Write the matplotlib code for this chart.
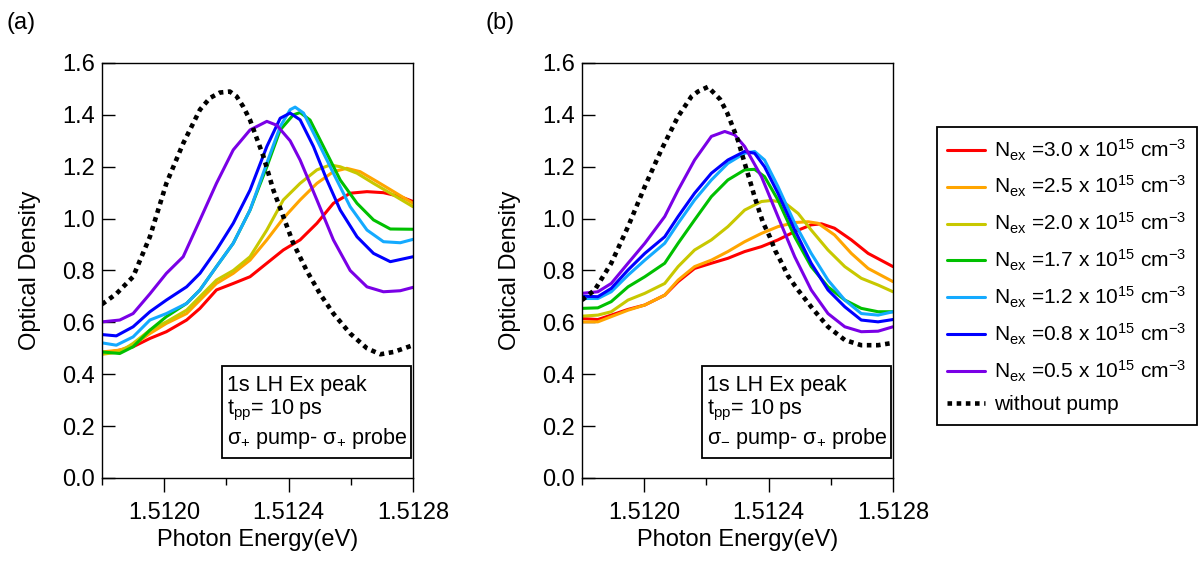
import matplotlib
matplotlib.use("Agg")
import matplotlib.pyplot as plt
from matplotlib.patches import Rectangle
from matplotlib.ticker import MultipleLocator, FormatStrFormatter

plt.rcParams['font.family'] = ['Liberation Sans', 'DejaVu Sans']
plt.rcParams['mathtext.fontset'] = 'custom'
plt.rcParams['mathtext.rm'] = 'Liberation Sans'
plt.rcParams['mathtext.it'] = 'Liberation Sans:italic'
plt.rcParams['mathtext.bf'] = 'Liberation Sans:bold'

# ---- data: (photon energy eV, optical density) ----
# panel (a): sigma+ pump / sigma+ probe
a_red = [(1.51180, 0.480), (1.511857, 0.493), (1.511900, 0.506), (1.511954, 0.538), (1.512007, 0.564),
         (1.512072, 0.609), (1.512115, 0.654), (1.512168, 0.725), (1.512222, 0.750), (1.512276, 0.776),
         (1.512330, 0.828), (1.512383, 0.879), (1.512437, 0.918), (1.512491, 0.982), (1.512544, 1.059),
         (1.512598, 1.098), (1.512652, 1.104), (1.512705, 1.100), (1.512759, 1.085), (1.512800, 1.066)]
a_orange = [(1.51180, 0.486), (1.511857, 0.493), (1.511900, 0.512), (1.511954, 0.557), (1.512007, 0.596),
            (1.512072, 0.634), (1.512115, 0.686), (1.512168, 0.750), (1.512222, 0.789), (1.512276, 0.840),
            (1.512330, 0.918), (1.512383, 1.001), (1.512437, 1.072), (1.512491, 1.136), (1.512544, 1.181),
            (1.512587, 1.194), (1.512630, 1.181), (1.512684, 1.143), (1.512738, 1.104), (1.512800, 1.059)]
a_yellow = [(1.51180, 0.477), (1.511857, 0.486), (1.511900, 0.519), (1.511954, 0.570), (1.512007, 0.602),
            (1.512072, 0.647), (1.512115, 0.699), (1.512168, 0.763), (1.512222, 0.800), (1.512276, 0.853),
            (1.512330, 0.956), (1.512383, 1.072), (1.512437, 1.136), (1.512491, 1.188), (1.512534, 1.207),
            (1.512566, 1.200), (1.512620, 1.175), (1.512673, 1.136), (1.512727, 1.098), (1.512800, 1.046)]
a_green = [(1.51180, 0.486), (1.511857, 0.480), (1.511900, 0.506), (1.511954, 0.570), (1.512007, 0.622),
           (1.512072, 0.673), (1.512115, 0.725), (1.512168, 0.815), (1.512222, 0.905), (1.512276, 1.033),
           (1.512330, 1.200), (1.512373, 1.342), (1.512415, 1.400), (1.512437, 1.409), (1.512469, 1.380),
           (1.512512, 1.278), (1.512566, 1.149), (1.512620, 1.059), (1.512673, 0.995), (1.512727, 0.960),
           (1.512800, 0.959)]
a_cyan = [(1.51180, 0.521), (1.511846, 0.512), (1.511900, 0.544), (1.511954, 0.609), (1.512007, 0.634),
          (1.512072, 0.673), (1.512115, 0.725), (1.512168, 0.815), (1.512222, 0.905), (1.512276, 1.033),
          (1.512330, 1.214), (1.512373, 1.355), (1.512405, 1.420), (1.512421, 1.430), (1.512448, 1.407),
          (1.512491, 1.304), (1.512544, 1.175), (1.512598, 1.046), (1.512652, 0.956), (1.512705, 0.911),
          (1.512759, 0.907), (1.512800, 0.920)]
a_blue = [(1.51180, 0.553), (1.511846, 0.548), (1.511900, 0.583), (1.511954, 0.641), (1.512007, 0.686),
          (1.512072, 0.737), (1.512115, 0.789), (1.512168, 0.879), (1.512222, 0.982), (1.512276, 1.110),
          (1.512330, 1.278), (1.512373, 1.387), (1.512405, 1.407), (1.512437, 1.381), (1.512480, 1.278),
          (1.512523, 1.149), (1.512566, 1.033), (1.512620, 0.930), (1.512673, 0.866), (1.512727, 0.834),
          (1.512800, 0.853)]
a_purple = [(1.51180, 0.602), (1.511857, 0.609), (1.511900, 0.634), (1.511954, 0.710), (1.512007, 0.789),
            (1.512061, 0.853), (1.512115, 0.995), (1.512168, 1.136), (1.512222, 1.265), (1.512276, 1.342),
            (1.512330, 1.375), (1.512362, 1.360), (1.512405, 1.300), (1.512437, 1.226), (1.512491, 1.072),
            (1.512544, 0.918), (1.512598, 0.800), (1.512652, 0.737), (1.512705, 0.718), (1.512759, 0.722),
            (1.512800, 0.735)]
a_nopump = [(1.51180, 0.670), (1.511846, 0.710), (1.511900, 0.776), (1.511954, 0.930), (1.512007, 1.136),
            (1.512061, 1.290), (1.512115, 1.420), (1.512147, 1.465), (1.512179, 1.486), (1.512211, 1.490),
            (1.512233, 1.471), (1.512254, 1.432), (1.512276, 1.380), (1.512319, 1.240), (1.512351, 1.110),
            (1.512383, 1.008), (1.512415, 0.905), (1.512458, 0.800), (1.512501, 0.710), (1.512544, 0.634),
            (1.512598, 0.557), (1.512652, 0.500), (1.512695, 0.477), (1.512738, 0.486), (1.512800, 0.512)]

# panel (b): sigma- pump / sigma+ probe
b_red = [(1.51180, 0.615), (1.511851, 0.611), (1.511894, 0.628), (1.511948, 0.650), (1.512002, 0.667),
         (1.512066, 0.705), (1.512109, 0.757), (1.512162, 0.808), (1.512216, 0.828), (1.512269, 0.847),
         (1.512323, 0.873), (1.512377, 0.892), (1.512430, 0.918), (1.512484, 0.950), (1.512537, 0.976),
         (1.512570, 0.980), (1.512612, 0.963), (1.512666, 0.918), (1.512720, 0.866), (1.512800, 0.815)]
b_orange = [(1.51180, 0.602), (1.511851, 0.602), (1.511894, 0.622), (1.511948, 0.647), (1.512002, 0.667),
            (1.512066, 0.705), (1.512109, 0.763), (1.512162, 0.815), (1.512216, 0.840), (1.512269, 0.873),
            (1.512323, 0.911), (1.512377, 0.943), (1.512430, 0.969), (1.512484, 0.985), (1.512527, 0.988),
            (1.512559, 0.982), (1.512612, 0.937), (1.512666, 0.866), (1.512720, 0.808), (1.512800, 0.757)]
b_yellow = [(1.51180, 0.624), (1.511851, 0.628), (1.511894, 0.641), (1.511948, 0.686), (1.512002, 0.712),
            (1.512066, 0.750), (1.512109, 0.815), (1.512162, 0.879), (1.512216, 0.918), (1.512269, 0.969),
            (1.512323, 1.033), (1.512377, 1.066), (1.512409, 1.070), (1.512451, 1.062), (1.512495, 1.020),
            (1.512537, 0.956), (1.512591, 0.879), (1.512645, 0.815), (1.512698, 0.770), (1.512752, 0.744),
            (1.512800, 0.718)]
b_green = [(1.51180, 0.654), (1.511851, 0.656), (1.511894, 0.680), (1.511948, 0.737), (1.512002, 0.776),
           (1.512066, 0.828), (1.512109, 0.905), (1.512162, 0.995), (1.512216, 1.085), (1.512269, 1.149),
           (1.512323, 1.188), (1.512355, 1.190), (1.512387, 1.162), (1.512430, 1.072), (1.512484, 0.930),
           (1.512537, 0.815), (1.512591, 0.737), (1.512645, 0.686), (1.512698, 0.654), (1.512752, 0.641),
           (1.512800, 0.641)]
b_cyan = [(1.51180, 0.692), (1.511851, 0.692), (1.511894, 0.718), (1.511948, 0.782), (1.512002, 0.840),
          (1.512066, 0.905), (1.512109, 0.982), (1.512162, 1.072), (1.512216, 1.149), (1.512269, 1.213),
          (1.512323, 1.252), (1.512355, 1.259), (1.512387, 1.226), (1.512430, 1.124), (1.512484, 0.982),
          (1.512537, 0.866), (1.512591, 0.763), (1.512645, 0.686), (1.512698, 0.634), (1.512752, 0.628),
          (1.512800, 0.641)]
b_blue = [(1.51180, 0.701), (1.511851, 0.699), (1.511894, 0.731), (1.511948, 0.802), (1.512002, 0.866),
          (1.512066, 0.930), (1.512109, 1.008), (1.512162, 1.098), (1.512216, 1.175), (1.512269, 1.226),
          (1.512323, 1.259), (1.512355, 1.252), (1.512387, 1.200), (1.512430, 1.098), (1.512484, 0.956),
          (1.512537, 0.828), (1.512591, 0.725), (1.512645, 0.660), (1.512698, 0.609), (1.512752, 0.602),
          (1.512800, 0.611)]
b_purple = [(1.51180, 0.712), (1.511851, 0.718), (1.511894, 0.750), (1.511948, 0.828), (1.512002, 0.905),
            (1.512066, 1.008), (1.512109, 1.110), (1.512162, 1.226), (1.512216, 1.317), (1.512259, 1.336),
            (1.512291, 1.323), (1.512323, 1.278), (1.512377, 1.162), (1.512430, 1.008), (1.512484, 0.853),
            (1.512537, 0.725), (1.512591, 0.634), (1.512645, 0.583), (1.512698, 0.564), (1.512752, 0.566),
            (1.512800, 0.583)]
b_nopump = [(1.51180, 0.686), (1.511841, 0.725), (1.511894, 0.828), (1.511948, 0.969), (1.512002, 1.124),
            (1.512055, 1.265), (1.512109, 1.394), (1.512152, 1.471), (1.512173, 1.490), (1.512205, 1.508),
            (1.512244, 1.460), (1.512266, 1.410), (1.512286, 1.350), (1.512302, 1.300), (1.512324, 1.210),
            (1.512340, 1.146), (1.512356, 1.080), (1.512382, 0.985), (1.512405, 0.927), (1.512421, 0.877),
            (1.512443, 0.827), (1.512462, 0.780), (1.512491, 0.730), (1.512511, 0.700), (1.512540, 0.655),
            (1.512591, 0.583), (1.512645, 0.532), (1.512698, 0.512), (1.512752, 0.512), (1.512800, 0.521)]

densities = ["3.0", "2.5", "2.0", "1.7", "1.2", "0.8", "0.5"]
colors = ["#ff0000", "#ffa500", "#c8c800", "#00c000", "#14aaff", "#0000ff", "#7a00e6"]

panel_a = [a_red, a_orange, a_yellow, a_green, a_cyan, a_blue, a_purple]
panel_b = [b_red, b_orange, b_yellow, b_green, b_cyan, b_blue, b_purple]

FS = 17

fig = plt.figure(figsize=(12.02, 5.65), dpi=100)
ax_a = fig.add_axes([102 / 1202, 87 / 565, 311 / 1202, 415 / 565])
ax_b = fig.add_axes([582 / 1202, 87 / 565, 311 / 1202, 415 / 565])


def draw_panel(ax, series, nopump, pump_label):
    handles = []
    for pts, c, d in zip(series, colors, densities):
        xs = [p[0] for p in pts]
        ys = [p[1] for p in pts]
        h, = ax.plot(xs, ys, color=c, lw=2.2, solid_joinstyle='round', solid_capstyle='round',
                     label=r"N$_\mathregular{ex}$ =" + d + r" x 10$^\mathregular{15}$ cm$^\mathregular{-3}$")
        handles.append(h)
    xs = [p[0] for p in nopump]
    ys = [p[1] for p in nopump]
    h, = ax.plot(xs, ys, color='black', lw=3.3, linestyle=(0, (1.0, 1.0)), dash_capstyle='butt',
                 label="without pump")
    handles.append(h)

    ax.set_xlim(1.5118, 1.5128)
    ax.set_ylim(0, 1.6)
    ax.xaxis.set_major_locator(MultipleLocator(0.0004))
    ax.xaxis.set_major_formatter(FormatStrFormatter('%.4f'))
    ax.xaxis.set_minor_locator(MultipleLocator(0.0002))
    ax.yaxis.set_major_locator(MultipleLocator(0.2))
    ax.yaxis.set_major_formatter(FormatStrFormatter('%.1f'))
    ax.tick_params(axis='y', direction='in', length=9.5, width=1, labelsize=FS, pad=5)
    ax.tick_params(axis='x', which='major', direction='out', length=10, width=1, labelsize=FS, pad=7)
    ax.tick_params(axis='x', which='minor', direction='out', length=5, width=1)
    for s in ax.spines.values():
        s.set_linewidth(1)
    ax.set_xlabel("Photon Energy(eV)", fontsize=FS, labelpad=4)
    ax.set_ylabel("Optical Density", fontsize=FS, labelpad=15)

    # annotation box
    ax.add_patch(Rectangle((0.385, 0.048), 0.609, 0.222, transform=ax.transAxes,
                           fill=False, edgecolor='black', lw=1.3, zorder=5))
    ax.text(0.402, 0.222, "1s LH Ex peak", transform=ax.transAxes, fontsize=15.5, va='center', zorder=6)
    ax.text(0.402, 0.163, r"t$_\mathregular{pp}$= 10 ps", transform=ax.transAxes, fontsize=15.5,
            va='center', zorder=6)
    ax.text(0.402, 0.095, pump_label, transform=ax.transAxes, fontsize=15.5, va='center', zorder=6)
    return handles


handles = draw_panel(ax_a, panel_a, a_nopump, r"σ$_\mathregular{+}$ pump- σ$_\mathregular{+}$ probe")
draw_panel(ax_b, panel_b, b_nopump, r"σ$_\mathregular{-}$ pump- σ$_\mathregular{+}$ probe")

fig.text(7 / 1202, 1 - 23 / 565, "(a)", fontsize=FS, va='center', ha='left')
fig.text(486 / 1202, 1 - 23 / 565, "(b)", fontsize=FS, va='center', ha='left')

leg = fig.legend(handles=handles, loc='upper left', bbox_to_anchor=(937 / 1202, 1 - 127 / 565),
                 fontsize=15, frameon=True, fancybox=False, edgecolor='black', framealpha=1,
                 borderaxespad=0, handlelength=1.8, handletextpad=0.45, labelspacing=0.56,
                 borderpad=0.5)
leg.get_frame().set_linewidth(1.3)

fig.savefig("out.png", dpi=100)
